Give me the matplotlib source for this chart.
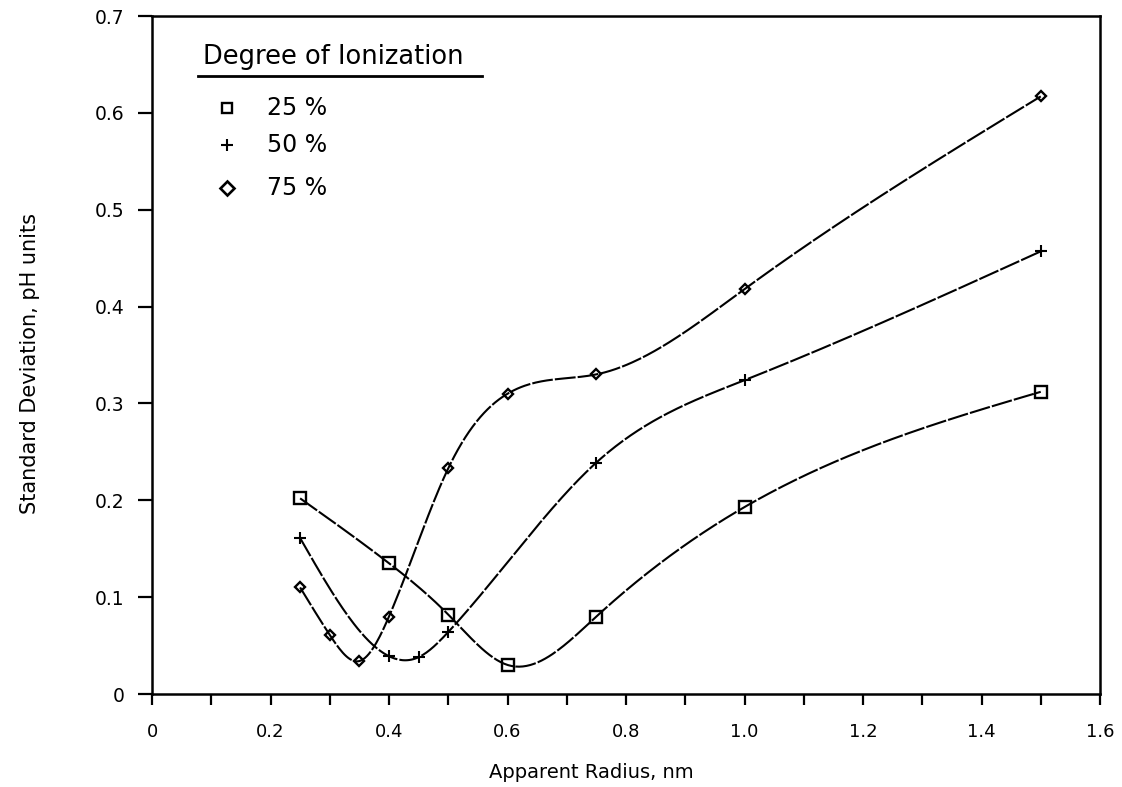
import numpy as np
import matplotlib
matplotlib.use("Agg")
import matplotlib.pyplot as plt

# standard deviation (pH units) vs apparent radius (nm)
x25 = [0.25, 0.40, 0.50, 0.60, 0.75, 1.00, 1.50]
y25 = [0.202, 0.135, 0.082, 0.030, 0.080, 0.193, 0.312]

x50 = [0.25, 0.40, 0.45, 0.50, 0.75, 1.00, 1.50]
y50 = [0.161, 0.039, 0.038, 0.064, 0.239, 0.324, 0.457]

x75 = [0.25, 0.30, 0.35, 0.40, 0.50, 0.60, 0.75, 1.00, 1.50]
y75 = [0.110, 0.061, 0.034, 0.080, 0.233, 0.310, 0.330, 0.418, 0.617]

labels = ["25 %", "50 %", "75 %"]
xticks = [0, 0.2, 0.4, 0.6, 0.8, 1.0, 1.2, 1.4, 1.6]
xticklabels = ["0", "0.2", "0.4", "0.6", "0.8", "1.0", "1.2", "1.4", "1.6"]
yticks = [0, 0.1, 0.2, 0.3, 0.4, 0.5, 0.6, 0.7]
yticklabels = ["0", "0.1", "0.2", "0.3", "0.4", "0.5", "0.6", "0.7"]


def natural_spline(x, y, n=400):
    # natural cubic spline through the points, no scipy needed
    x = np.asarray(x, float)
    y = np.asarray(y, float)
    k = len(x)
    h = np.diff(x)
    A = np.zeros((k, k))
    b = np.zeros(k)
    A[0, 0] = A[-1, -1] = 1
    for i in range(1, k - 1):
        A[i, i - 1] = h[i - 1]
        A[i, i] = 2 * (h[i - 1] + h[i])
        A[i, i + 1] = h[i]
        b[i] = 6 * ((y[i + 1] - y[i]) / h[i] - (y[i] - y[i - 1]) / h[i - 1])
    M = np.linalg.solve(A, b)
    xs = np.linspace(x[0], x[-1], n)
    j = np.clip(np.searchsorted(x, xs, side="right") - 1, 0, k - 2)
    hj = h[j]
    t1 = x[j + 1] - xs
    t2 = xs - x[j]
    ys = (M[j] * t1**3 / (6 * hj) + M[j + 1] * t2**3 / (6 * hj)
          + (y[j] / hj - M[j] * hj / 6) * t1
          + (y[j + 1] / hj - M[j + 1] * hj / 6) * t2)
    return xs, ys


plt.rcParams["font.family"] = ["DejaVu Sans"]

fig = plt.figure(figsize=(11.22, 7.87), dpi=100)
ax = fig.add_axes([152 / 1122, 1 - 694 / 787, 948 / 1122, 678 / 787])

series = [
    (x25, y25, "s", 8.5, dict(mfc="none", mew=1.7)),
    (x50, y50, "+", 8.5, dict(mew=1.5)),
    (x75, y75, "D", 5.5, dict(mfc="none", mew=1.7)),
]

for xs, ys, mk, ms, kw in series:
    sx, sy = natural_spline(xs, ys)
    line, = ax.plot(sx, sy, color="black", lw=1.5)
    line.set_dashes([10, 1.0])
    ax.plot(xs, ys, ls="none", marker=mk, ms=ms, color="black", **kw)

ax.set_xlim(0, 1.6)
ax.set_ylim(0, 0.7)
ax.set_xticks(xticks)
ax.set_xticklabels(xticklabels, fontsize=13)
ax.set_xticks(np.arange(0.1, 1.6, 0.2), minor=True)
ax.set_yticks(yticks)
ax.set_yticklabels(yticklabels, fontsize=13.5)
ax.tick_params(axis="x", which="both", direction="out", length=8, width=1.6, pad=13)
ax.tick_params(axis="y", direction="out", length=10, width=1.6, pad=10)
for s in ax.spines.values():
    s.set_linewidth(1.8)

fig.text(591 / 1122, 1 - 773 / 787, "Apparent Radius, nm", fontsize=14,
         ha="center", va="center")
fig.text(30 / 1122, 1 - 364 / 787, "Standard Deviation, pH units", fontsize=15,
         rotation=90, ha="center", va="center")

# legend block in the upper left corner
ax.text(0.054, 0.9395, "Degree of Ionization", fontsize=18.5, transform=ax.transAxes,
        ha="left", va="center")
ax.plot([0.0485, 0.348], [0.9115, 0.9115], color="black", lw=2.0,
        transform=ax.transAxes, clip_on=False)
leg_y = [1 - (108 - 16) / 678, 1 - (145 - 16) / 678, 1 - (188 - 16) / 678]
leg_marks = [("s", 7, dict(mfc="none", mew=1.7)),
             ("+", 8, dict(mew=1.5)),
             ("D", 7, dict(mfc="none", mew=1.9))]
for lab, yy, (mk, ms, kw) in zip(labels, leg_y, leg_marks):
    ax.plot([(227 - 152) / 948], [yy], marker=mk, ms=ms, color="black",
            transform=ax.transAxes, clip_on=False, **kw)
    ax.text((267 - 152) / 948, yy, lab, fontsize=17, transform=ax.transAxes,
            ha="left", va="center")

fig.savefig("out.png", dpi=100)
